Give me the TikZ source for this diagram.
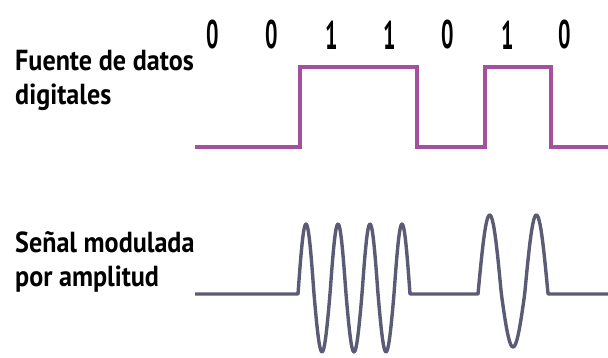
\documentclass[tikz,border=0pt]{standalone}
\usepackage{fontspec}
\setmainfont{PT Sans}
\newfontfamily\labelfont[FakeStretch=0.9]{PT Sans}
\newfontfamily\digitfont[FakeStretch=0.55]{PT Sans}
\definecolor{datapurple}{HTML}{A5509F}
\definecolor{wavegray}{HTML}{5C5B75}
\tikzset{
  sidelabel/.style={anchor=base west, inner sep=0pt, align=left,
    font=\labelfont\bfseries\fontsize{29}{34}\selectfont},
  bitlabel/.style={inner sep=0pt, font=\digitfont\bfseries\fontsize{40}{40}\selectfont},
  digital/.style={datapurple, line width=4pt, line join=miter},
  analog/.style={wavegray, line width=3.4pt, line join=round}
}
\begin{document}
\begin{tikzpicture}[x=1pt, y=1pt]
  \useasboundingbox (0,0) rectangle (608,358);

  % labels (anchored on the baseline of their last line)
  \node[sidelabel] (src) at (15,253) {Fuente de datos\\digitales};
  \node[sidelabel] (mod) at (15,71) {Señal modulada\\por amplitud};

  % bit sequence
  \foreach \b/\x [count=\i] in {0/213,0/272,1/332,1/390,0/448,1/508,0/565}
    \node[bitlabel] (bit\i) at (\x,323) {\b};

  % digital source signal
  \coordinate (d0) at (195,211);
  \coordinate (d1) at (608,211);
  \draw[digital] (d0) -- (300,211) -- (300,291) -- (417,291) -- (417,211)
    -- (485,211) -- (485,291) -- (551,291) -- (551,211) -- (d1);

  % amplitude modulated signal
  \coordinate (m0) at (195,64);
  \coordinate (m1) at (608,64);
  \draw[analog] (m0) -- (298,64)
    -- plot[domain=0:1260, samples=140, variable=\t]
       ({298+\t/360*32}, {64+(sin(\t)>0 ? 70 : 58)*sin(\t)})
    -- (478,64)
    -- plot[domain=0:540, samples=80, variable=\t]
       ({478+\t/360*46.7}, {64+(sin(\t)>0 ? 79 : 53)*sin(\t)})
    -- (m1);
\end{tikzpicture}
\end{document}
